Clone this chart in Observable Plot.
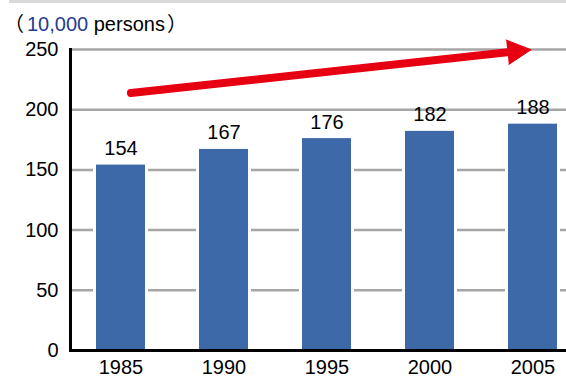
<!DOCTYPE html>
<html>
<head>
<meta charset="utf-8">
<script src="https://cdn.jsdelivr.net/npm/d3@7"></script>
<script src="https://cdn.jsdelivr.net/npm/@observablehq/plot@0.6"></script>
<style>
  html, body { margin: 0; padding: 0; background: #fff; }
  #wrap { position: relative; width: 566px; height: 379px; overflow: hidden; font-family: "Liberation Sans", Arial, sans-serif; }
  #strip { position: absolute; top: 0; left: 9px; right: 0; height: 3px; background: #d9d9d9; }
  #unit { position: absolute; top: 13px; left: 4px; font-size: 20px; line-height: 20px; color: #000; white-space: nowrap; }
  #unit .paren { font-family: "Noto Sans CJK JP", sans-serif; }
  #unit .open { margin-right: 3px; }
  #unit .close { margin-left: 2px; }
  #unit .num { color: #1f3d8f; }
  svg { display: block; }
</style>
</head>
<body>
<div id="wrap">
  <div id="chart"></div>
  <div id="strip"></div>
  <div id="unit"><span class="paren open">（</span><span class="num">10,000</span> persons<span class="paren close">）</span></div>
</div>
<script>
// Population by survey year, in units of 10,000 persons
const years = ["1985", "1990", "1995", "2000", "2005"];
const persons = [154, 167, 176, 182, 188];
const yTicks = [0, 50, 100, 150, 200, 250];
const gridValues = [50, 100, 150, 200, 250];

// Upward trend arrow: from the first year to the last year
const trendYears = ["1985", "2005"];
const trendValues = [213, 250];

const rows = years.map((year, i) => ({ year, value: persons[i] }));
const trend = [{ x1: trendYears[0], y1: trendValues[0], x2: trendYears[1], y2: trendValues[1] }];

const blue = "#3e69a8";
const red = "#e60012";
const fs = 20;

const chart = Plot.plot({
  width: 566,
  height: 379,
  marginLeft: 70,
  marginRight: 0,
  marginTop: 49,
  marginBottom: 29,
  style: { fontFamily: "'Liberation Sans', Arial, sans-serif", fontSize: fs + "px", color: "#000", background: "transparent" },
  x: { domain: years, range: [70, 583], paddingInner: 0.52, paddingOuter: 0.25, label: null },
  y: { domain: [0, 250], label: null },
  marks: [
    Plot.ruleY(gridValues, { stroke: "#a6a6a6", strokeWidth: 2.5 }),
    // white halo so gridlines stop short of each bar
    Plot.barY(rows, { x: "year", y: "value", fill: "white", insetLeft: -3, insetRight: -3 }),
    Plot.barY(rows, { x: "year", y: "value", fill: blue }),
    Plot.text(rows, { x: "year", y: "value", text: (d) => String(d.value), lineAnchor: "bottom", dy: -10, fontSize: fs, fill: "#000" }),
    Plot.axisY({ ticks: yTicks, tickSize: 0, tickPadding: 12, label: null, fontSize: fs }),
    Plot.axisX({ tickSize: 0, tickPadding: 9, label: null, fontSize: fs }),
    Plot.ruleY([0], { stroke: "#000", strokeWidth: 3 }),
    Plot.frame({ anchor: "left", stroke: "#000", strokeWidth: 3 }),
    // arrow shaft
    Plot.arrow(trend, { x1: "x1", y1: "y1", x2: "x2", y2: "y2", stroke: red, strokeWidth: 8, headLength: 0, insetStart: 10, insetEnd: 20 }),
    // filled arrow head
    Plot.arrow(trend, { x1: "x1", y1: "y1", x2: "x2", y2: "y2", stroke: red, fill: red, strokeWidth: 1, headLength: 40, headAngle: 55, insetStart: 10, insetEnd: 2 })
  ]
});

document.getElementById("chart").appendChild(chart);
</script>
</body>
</html>
